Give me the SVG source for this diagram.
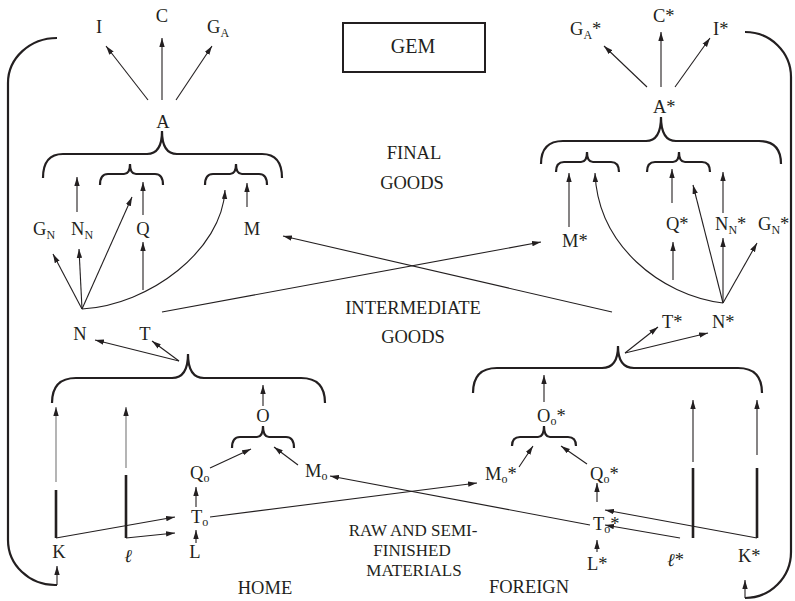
<svg xmlns="http://www.w3.org/2000/svg" width="795" height="601" viewBox="0 0 795 601">
<style>
text{font-family:"Liberation Serif","Times New Roman",serif;font-size:18.5px;fill:#231f20}
.m{text-anchor:middle}
.s{font-size:12px}
.it{font-style:italic}
.sm{font-size:17px}
.ln{fill:none;stroke:#231f20;stroke-width:1.1}
.ar{fill:none;stroke:#231f20;stroke-width:1.1;marker-end:url(#ah)}
.gr{fill:none;stroke:#777;stroke-width:1.1;marker-end:url(#ah)}
.br{fill:none;stroke:#231f20;stroke-width:2.2}
.tk{fill:none;stroke:#231f20;stroke-width:2.6}
</style>
<defs>
<marker id="ah" viewBox="0 0 10 6" refX="10" refY="3" markerWidth="9" markerHeight="6" orient="auto" markerUnits="userSpaceOnUse">
<path d="M0,0 L10,3 L0,6 z" fill="#231f20"/>
</marker>
</defs>
<rect width="795" height="601" fill="#fff"/>

<g id="title"><rect x="343" y="23" width="142" height="49" fill="none" stroke="#231f20" stroke-width="2"/><text class="m" x="413" y="53" style="font-size:20px">GEM</text></g>

<g id="sectors">
<text class="m" x="414" y="159">FINAL</text>
<text class="m" x="412" y="189">GOODS</text>
<text class="m" x="413" y="314">INTERMEDIATE</text>
<text class="m" x="413" y="343">GOODS</text>
<text class="m sm" x="413" y="536">RAW AND SEMI-</text>
<text class="m sm" x="412" y="556">FINISHED</text>
<text class="m sm" x="414" y="576">MATERIALS</text>
<text class="m" x="265" y="594">HOME</text>
<text class="m" x="529" y="593">FOREIGN</text>
</g>

<!-- home nodes -->
<g id="I"><text class="m" x="99" y="33">I</text></g>
<g id="C"><text class="m" x="162" y="22">C</text></g>
<g id="GA"><text x="207" y="33">G<tspan class="s" dy="4">A</tspan></text></g>
<g id="A"><text class="m" x="163" y="128">A</text></g>
<g id="GN"><text x="33" y="235">G<tspan class="s" dy="4">N</tspan></text></g>
<g id="NN"><text x="71" y="235">N<tspan class="s" dy="4">N</tspan></text></g>
<g id="Q"><text class="m" x="143" y="235">Q</text></g>
<g id="M"><text class="m" x="252" y="235">M</text></g>
<g id="N"><text class="m" x="80" y="340">N</text></g>
<g id="T"><text class="m" x="145" y="340">T</text></g>
<g id="O"><text class="m" x="263" y="422">O</text></g>
<g id="Qo"><text x="190" y="479">Q<tspan class="s" dy="3">o</tspan></text></g>
<g id="Mo"><text x="305" y="477">M<tspan class="s" dy="3">o</tspan></text></g>
<g id="To"><text x="191" y="523">T<tspan class="s" dy="3">o</tspan></text></g>
<g id="L"><text class="m" x="195" y="558">L</text></g>
<g id="K"><text class="m" x="59" y="558">K</text></g>
<g id="ell"><text class="m it" x="128" y="562">ℓ</text></g>

<!-- foreign nodes -->
<g id="GAs"><text x="570" y="35">G<tspan class="s" dy="4">A</tspan><tspan dy="-4">*</tspan></text></g>
<g id="Cs"><text x="653" y="22">C*</text></g>
<g id="Is"><text x="713" y="35">I*</text></g>
<g id="As"><text x="653" y="113">A*</text></g>
<g id="Ms"><text x="562" y="247">M*</text></g>
<g id="Qs"><text x="666" y="230">Q*</text></g>
<g id="NNs"><text x="715" y="230">N<tspan class="s" dy="4">N</tspan><tspan dy="-4">*</tspan></text></g>
<g id="GNs"><text x="758" y="230">G<tspan class="s" dy="4">N</tspan><tspan dy="-4">*</tspan></text></g>
<g id="Ts"><text x="662" y="328">T*</text></g>
<g id="Ns"><text x="712" y="328">N*</text></g>
<g id="Oos"><text x="537" y="422">O<tspan class="s" dy="3">o</tspan><tspan dy="-3">*</tspan></text></g>
<g id="Mos"><text x="485" y="480">M<tspan class="s" dy="3">o</tspan><tspan dy="-3">*</tspan></text></g>
<g id="Qos"><text x="590" y="480">Q<tspan class="s" dy="3">o</tspan><tspan dy="-3">*</tspan></text></g>
<g id="Tos"><text x="593" y="530">T<tspan class="s" dy="3">o</tspan><tspan dy="-3">*</tspan></text></g>
<g id="Ls"><text x="587" y="570">L*</text></g>
<g id="ells"><text x="667" y="566"><tspan class="it">ℓ</tspan>*</text></g>
<g id="Ks"><text x="738" y="562">K*</text></g>

<g id="braces">
<path class="br" d="M43,178 Q43,154 63,154 L147,154 C157,154 162,146 162,131 C162,146 167,154 177,154 L262,154 Q282,154 282,178"/>
<path class="br" d="M100,185 Q100,174 108,174 L124,174 C128,174 130,171 130,164 C130,171 132,174 136,174 L155,174 Q163,174 163,185"/>
<path class="br" d="M205,185 Q205,174 213,174 L230,174 C234,174 236,171 236,164 C236,171 238,174 242,174 L259,174 Q267,174 267,185"/>
<path class="br" d="M52,403 Q52,378 76,378 L172,378 C183,378 188,370 188,354 C188,370 193,378 204,378 L301,378 Q325,378 325,403"/>
<path class="br" d="M232,448 Q232,437 240,437 L257,437 C261,437 263,434 263,426 C263,434 265,437 269,437 L286,437 Q294,437 294,448"/>
<path class="br" d="M541,164 Q541,141 563,141 L646,141 C656,141 661,133 661,117 C661,133 666,141 676,141 L759,141 Q781,141 781,164"/>
<path class="br" d="M556,172 Q556,162 564,162 L581,162 C585,162 587,159 587,152 C587,159 589,162 593,162 L611,162 Q619,162 619,172"/>
<path class="br" d="M647,172 Q647,162 655,162 L673,162 C677,162 679,159 679,152 C679,159 681,162 685,162 L702,162 Q710,162 710,172"/>
<path class="br" d="M473,393 Q473,368 497,368 L602,368 C613,368 618,360 618,346 C618,360 623,368 634,368 L738,368 Q762,368 762,393"/>
<path class="br" d="M512,446 Q512,437 520,437 L538,437 C542,437 544,434 544,426 C544,434 546,437 550,437 L568,437 Q576,437 576,446"/>
</g>

<g id="connectors">
<!-- home -->
<path class="ar" d="M148,100 L106,46"/>
<path class="ar" d="M162,100 L162,38"/>
<path class="ar" d="M176,100 L212,46"/>
<path class="ar" d="M77,212 L77,177"/>
<path class="ar" d="M143,215 L143,182"/>
<path class="ar" d="M247,207 L247,183"/>
<path class="ar" d="M82,309 L53,254"/>
<path class="ar" d="M82,309 L79,249"/>
<path class="ar" d="M82,309 L132,197"/>
<path class="ar" d="M82,309 C150,305 222,250 225,190"/>
<path class="ar" d="M143,290 L143,242"/>
<path class="ar" d="M612,312 L283,236"/>
<path class="ar" d="M162,312 L541,242"/>
<path class="ar" d="M179,361 L95,340"/>
<path class="ar" d="M179,361 L152,341"/>
<path class="ar" d="M263,406 L263,385"/>
<path class="ar" d="M210,468 L251,449"/>
<path class="ar" d="M298,465 L274,447"/>
<path class="gr" d="M56,482 L56,407"/>
<path class="gr" d="M126,468 L126,407"/>
<path class="tk" d="M56,490 L56,538"/>
<path class="tk" d="M126,475 L126,538"/>
<path class="ar" d="M56,538 L175,517"/>
<path class="ar" d="M126,538 L175,533"/>
<path class="ar" d="M196,543 L196,530"/>
<path class="ar" d="M196,507 L196,487"/>
<path class="ar" d="M210,517 L477,483"/>
<path class="ar" d="M590,525 L330,476"/>
<path class="br" d="M57,38 A49,45 0 0 0 8,83 L8,540 A47,45 0 0 0 55,585 L57,585"/>
<path class="ar" d="M57,585 L57,566"/>
<!-- foreign -->
<path class="ar" d="M647,87 L604,46"/>
<path class="ar" d="M661,87 L661,32"/>
<path class="ar" d="M675,87 L710,38"/>
<path class="ar" d="M569,227 L569,173"/>
<path class="ar" d="M723,303 C660,295 598,245 595,173"/>
<path class="ar" d="M672,203 L672,169"/>
<path class="ar" d="M673,280 L673,242"/>
<path class="ar" d="M723,303 L693,185"/>
<path class="ar" d="M723,213 L723,172"/>
<path class="ar" d="M723,303 L723,238"/>
<path class="ar" d="M723,303 L757,243"/>
<path class="ar" d="M625,353 L658,327"/>
<path class="ar" d="M625,353 L708,333"/>
<path class="ar" d="M544,402 L544,375"/>
<path class="ar" d="M519,467 L533,446"/>
<path class="ar" d="M587,464 L561,446"/>
<path class="ar" d="M597,552 L597,540"/>
<path class="ar" d="M597,502 L597,483"/>
<path class="ar" d="M693,462 L693,400"/>
<path class="ar" d="M757,455 L757,400"/>
<path class="tk" d="M693,468 L693,538"/>
<path class="tk" d="M757,468 L757,538"/>
<path class="ar" d="M757,538 L605,510"/>
<path class="ar" d="M680,538 L605,525"/>
<path class="br" d="M745,32 A46,45 0 0 1 791,77 L791,552 A46,46 0 0 1 745,598"/>
<path class="ar" d="M745,598 L745,580"/>
</g>
</svg>
